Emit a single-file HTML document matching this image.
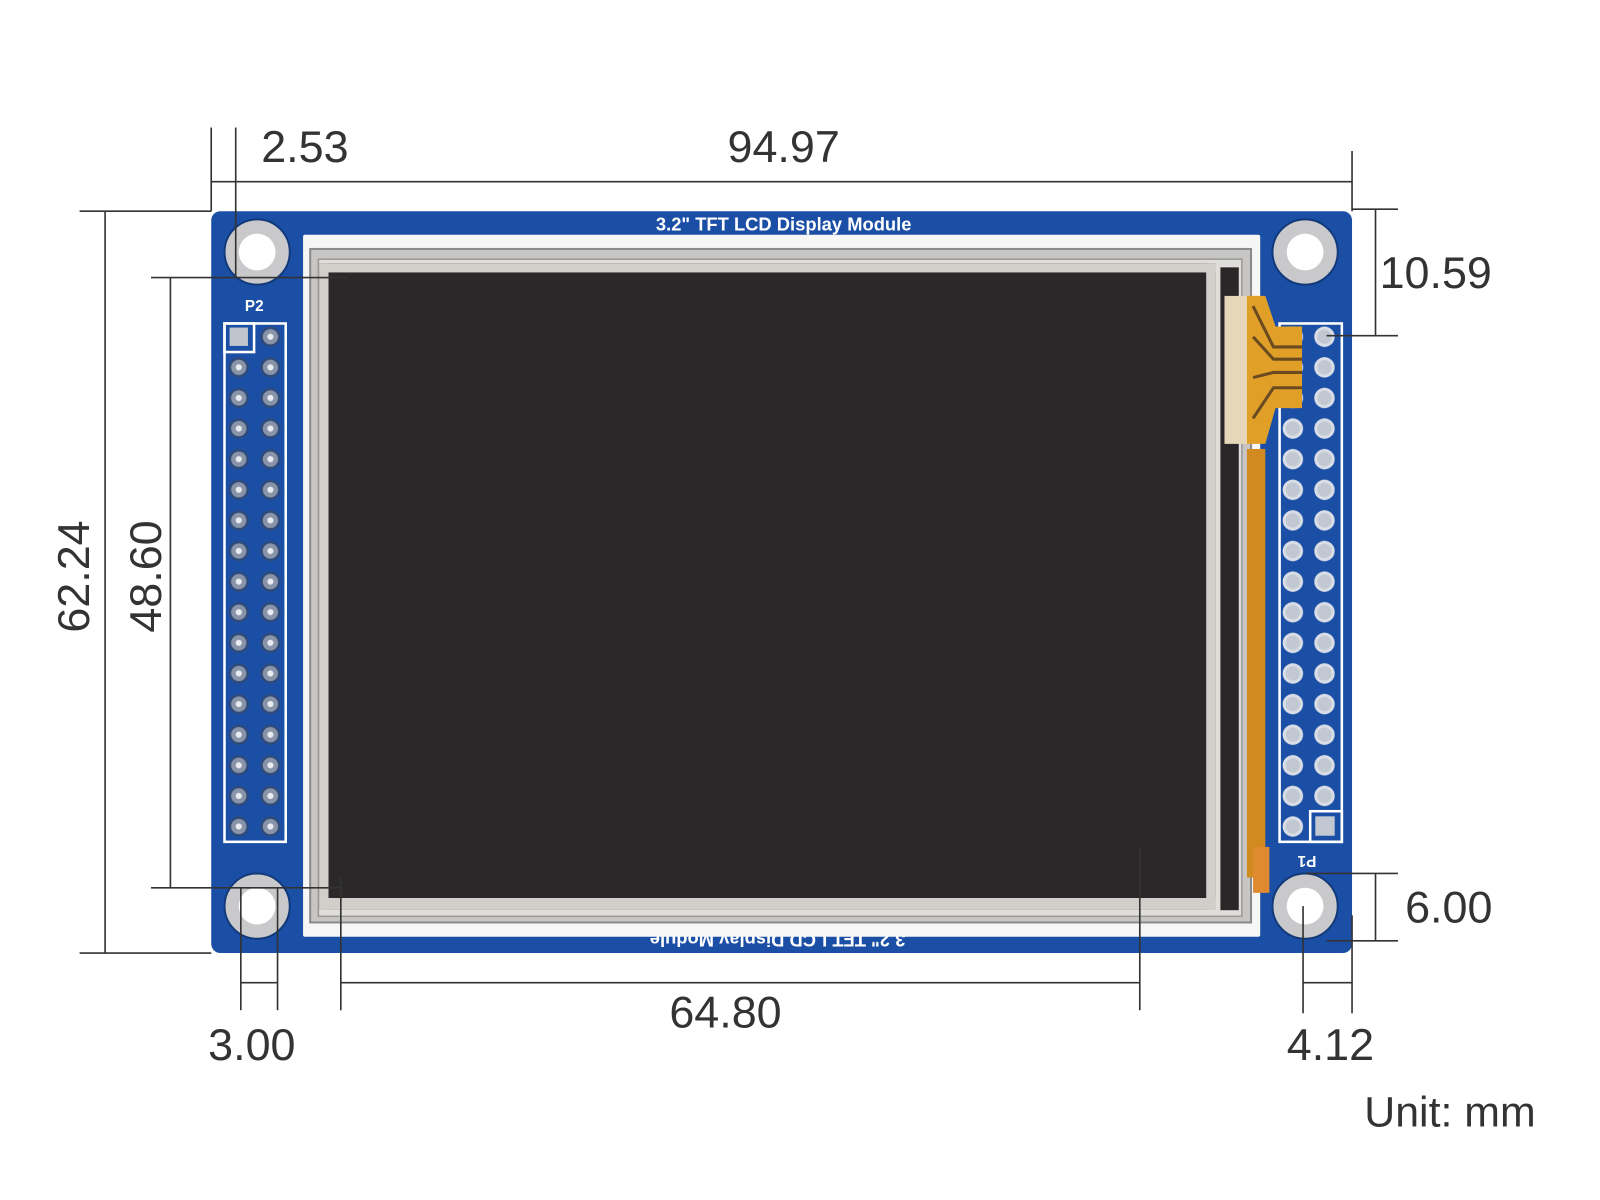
<!DOCTYPE html>
<html><head><meta charset="utf-8"><style>
html,body{margin:0;padding:0;background:#fff;}
svg{display:block}
text{font-family:"Liberation Sans",sans-serif;}
</style></head><body>
<svg width="1600" height="1200" viewBox="0 0 1568 1176" xmlns="http://www.w3.org/2000/svg">
<defs>
<pattern id="lp" x="219" y="315" width="31" height="30" patternUnits="userSpaceOnUse">
<circle cx="15" cy="15" r="10" fill="#2d4a7a"/><circle cx="15" cy="15" r="7.5" fill="#8a94a8"/><circle cx="15" cy="15" r="3" fill="#e8ecf2"/>
</pattern>
<pattern id="rp" x="1252" y="315" width="31" height="30" patternUnits="userSpaceOnUse">
<circle cx="15" cy="15" r="10" fill="#d8dde6"/><circle cx="15" cy="15" r="7" fill="#c2c8d2"/>
</pattern>
</defs>
<rect width="1568" height="1176" fill="#fff"/>
<rect x="207" y="207" width="1118" height="727" rx="9" fill="#1b4fa6"/>
<text x="768" y="226" text-anchor="middle" fill="#fff" font-size="18" font-weight="bold">3.2" TFT LCD Display Module</text>
<text transform="translate(762,915) rotate(180)" text-anchor="middle" fill="#fff" font-size="18" font-weight="bold">3.2" TFT LCD Display Module</text>
<g fill="#c9c9cb" stroke="#123a7a" stroke-width="2">
<circle cx="252" cy="247" r="32"/><circle cx="1279" cy="247" r="32"/><circle cx="252" cy="888" r="32"/><circle cx="1279" cy="888" r="32"/>
</g>
<g fill="#fff"><circle cx="252" cy="247" r="18"/><circle cx="1279" cy="247" r="18"/><circle cx="252" cy="888" r="18"/><circle cx="1279" cy="888" r="18"/></g>
<text x="240" y="305" fill="#fff" font-size="15" font-weight="bold">P2</text>
<text transform="translate(1290,839) rotate(180)" fill="#fff" font-size="15" font-weight="bold">P1</text>
<rect x="220" y="317" width="60" height="508" fill="none" stroke="#fff" stroke-width="2.5"/>
<rect x="220" y="317" width="29" height="28" fill="none" stroke="#fff" stroke-width="2.5"/>
<rect x="220" y="345" width="60" height="480" fill="url(#lp)"/>
<rect x="251" y="317" width="29" height="28" fill="url(#lp)"/>
<rect x="225" y="321" width="18" height="18" fill="#c0c4cc"/>
<rect x="1254" y="317" width="61" height="508" fill="none" stroke="#fff" stroke-width="2.5"/>
<rect x="1284" y="795" width="31" height="30" fill="none" stroke="#fff" stroke-width="2.5"/>
<rect x="1254" y="317" width="61" height="477" fill="url(#rp)"/>
<rect x="1254" y="795" width="30" height="30" fill="url(#rp)"/>
<rect x="1289" y="800" width="19" height="19" fill="#c2c8d2"/>
<rect x="297" y="230" width="938" height="688" fill="#f6f6f6" rx="2"/>
<rect x="304" y="244" width="922" height="660" fill="#c8c6c4" stroke="#8a8a8a" stroke-width="2"/>
<rect x="312" y="254" width="905" height="644" fill="#e0dedb" stroke="#999" stroke-width="1.5"/>
<rect x="313" y="258" width="878" height="633" fill="#2a2728"/>
<rect x="313" y="258" width="878" height="9" fill="#d2ceca"/>
<rect x="313" y="258" width="9" height="633" fill="#d2ceca"/>
<rect x="1182" y="258" width="9" height="633" fill="#d2ceca"/>
<rect x="313" y="880" width="878" height="11" fill="#d2ceca"/>
<rect x="1196" y="262" width="18" height="630" fill="#2a2728"/>
<rect x="322" y="268" width="860" height="612" fill="#2b2829"/>
<rect x="1200" y="290" width="24" height="145" fill="#e6d7b8"/>
<path d="M1222 290 L1240 290 L1250 320 L1276 320 L1276 400 L1250 400 L1240 435 L1222 435 Z" fill="#e0a028"/>
<g stroke="#6b4a20" stroke-width="3" fill="none">
<path d="M1228 300 L1248 340 L1276 340"/><path d="M1228 330 L1248 352 L1276 352"/><path d="M1228 370 L1248 365 L1276 365"/><path d="M1228 410 L1248 380 L1276 380"/>
</g>
<rect x="1222" y="440" width="18" height="420" fill="#d08a20"/>
<rect x="1228" y="830" width="16" height="45" fill="#e08a30"/>
<g stroke="#333" stroke-width="1.6" fill="none">
<line x1="207" y1="125" x2="207" y2="207"/><line x1="231" y1="125" x2="231" y2="272"/>
<line x1="207" y1="178" x2="1325" y2="178"/><line x1="1325" y1="148" x2="1325" y2="207"/>
<line x1="78" y1="207" x2="207" y2="207"/><line x1="78" y1="934" x2="207" y2="934"/><line x1="103" y1="207" x2="103" y2="934"/>
<line x1="148" y1="272" x2="340" y2="272"/><line x1="148" y1="870" x2="335" y2="870"/><line x1="167" y1="272" x2="167" y2="870"/>
<line x1="1325" y1="205" x2="1370" y2="205"/><line x1="1300" y1="329" x2="1370" y2="329"/><line x1="1348" y1="205" x2="1348" y2="329"/>
<line x1="1280" y1="856" x2="1370" y2="856"/><line x1="1300" y1="922" x2="1370" y2="922"/><line x1="1348" y1="856" x2="1348" y2="922"/>
<line x1="236" y1="870" x2="236" y2="990"/><line x1="272" y1="870" x2="272" y2="990"/><line x1="236" y1="963" x2="272" y2="963"/>
<line x1="334" y1="860" x2="334" y2="990"/><line x1="1117" y1="830" x2="1117" y2="990"/><line x1="334" y1="963" x2="1117" y2="963"/>
<line x1="1277" y1="888" x2="1277" y2="993"/><line x1="1325" y1="897" x2="1325" y2="993"/><line x1="1277" y1="963" x2="1325" y2="963"/>
</g>
<g fill="#333" font-size="44">
<text x="256" y="159">2.53</text>
<text x="768" y="159" text-anchor="middle">94.97</text>
<text transform="translate(87,565) rotate(-90)" text-anchor="middle">62.24</text>
<text transform="translate(158,565) rotate(-90)" text-anchor="middle">48.60</text>
<text x="1352" y="282">10.59</text>
<text x="1377" y="904">6.00</text>
<text x="204" y="1039">3.00</text>
<text x="711" y="1007" text-anchor="middle">64.80</text>
<text x="1261" y="1039">4.12</text>
<text x="1337" y="1104" font-size="42">Unit: mm</text>
</g>
</svg>
</body></html>
